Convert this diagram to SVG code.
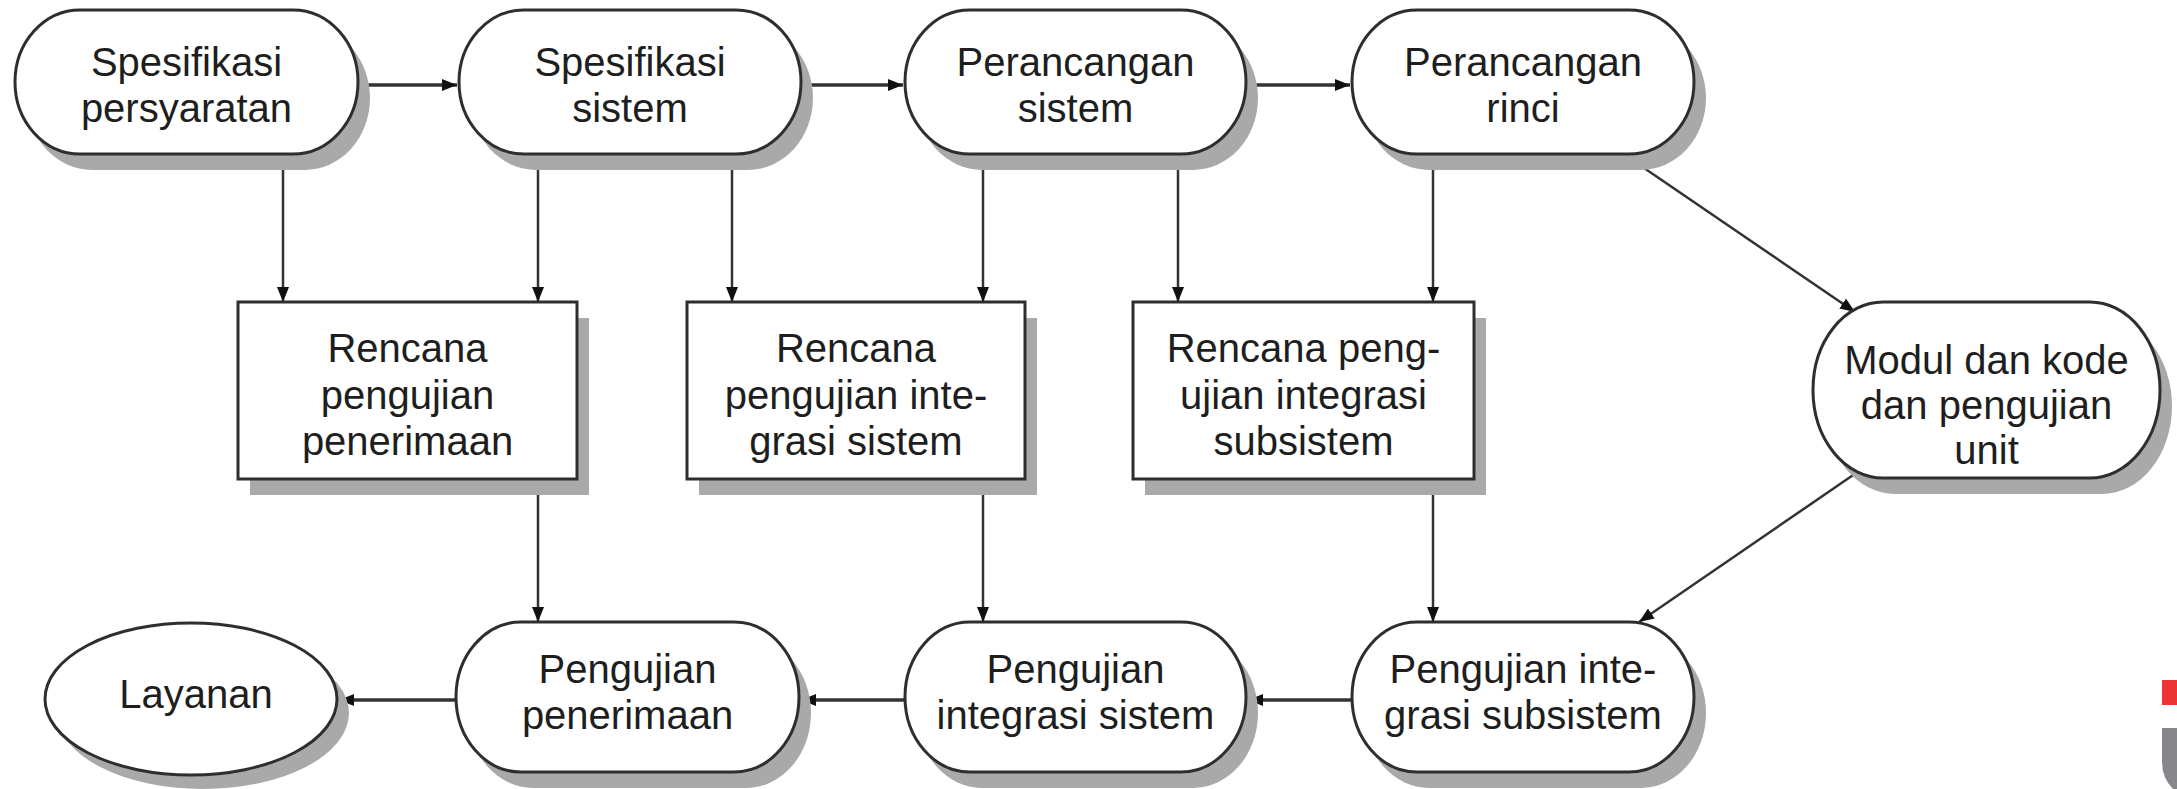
<svg xmlns="http://www.w3.org/2000/svg" width="2177" height="789" viewBox="0 0 2177 789">
<style>
.bg{fill:#ffffff}
.shadow{fill:#a9a9a9;stroke:none}
.node{fill:#ffffff;stroke:#2e2e2e;stroke-width:3}
.lbl{font-family:"Liberation Sans",Arial,Helvetica,sans-serif;font-size:40px;fill:#1e1e1e;text-anchor:middle}
.edge{fill:none;stroke:#333333;stroke-width:2.5}
.edge-h{fill:none;stroke:#333333;stroke-width:3.5}
</style>
<defs>
<marker id="ah" markerUnits="userSpaceOnUse" markerWidth="16" markerHeight="12" refX="15" refY="6" orient="auto">
<path d="M0,0 L15,6 L0,12 Z" fill="#111111"/>
</marker>
</defs>
<rect class="bg" x="0" y="0" width="2177" height="789"/>

<g id="connectors">
<line class="edge-h" x1="358" y1="85" x2="457" y2="85" marker-end="url(#ah)"/>
<line class="edge-h" x1="801" y1="85" x2="903" y2="85" marker-end="url(#ah)"/>
<line class="edge-h" x1="1246" y1="85" x2="1350" y2="85" marker-end="url(#ah)"/>
<line class="edge" x1="283" y1="154" x2="283" y2="302" marker-end="url(#ah)"/>
<line class="edge" x1="538" y1="154" x2="538" y2="302" marker-end="url(#ah)"/>
<line class="edge" x1="732" y1="154" x2="732" y2="302" marker-end="url(#ah)"/>
<line class="edge" x1="983" y1="154" x2="983" y2="302" marker-end="url(#ah)"/>
<line class="edge" x1="1178" y1="154" x2="1178" y2="302" marker-end="url(#ah)"/>
<line class="edge" x1="1433" y1="154" x2="1433" y2="302" marker-end="url(#ah)"/>
<line class="edge" x1="538" y1="479" x2="538" y2="622" marker-end="url(#ah)"/>
<line class="edge" x1="983" y1="479" x2="983" y2="622" marker-end="url(#ah)"/>
<line class="edge" x1="1433" y1="479" x2="1433" y2="622" marker-end="url(#ah)"/>
<line class="edge" x1="1625" y1="155" x2="1855" y2="312" marker-end="url(#ah)"/>
<line class="edge" x1="1859" y1="471" x2="1639" y2="622" marker-end="url(#ah)"/>
<line class="edge-h" x1="1352" y1="700" x2="1248" y2="700" marker-end="url(#ah)"/>
<line class="edge-h" x1="905" y1="700" x2="801" y2="700" marker-end="url(#ah)"/>
<line class="edge-h" x1="456" y1="700" x2="339" y2="700" marker-end="url(#ah)"/>
</g>

<g id="n-spesifikasi-persyaratan">
<rect class="shadow" x="27" y="26" width="343" height="144" rx="65" ry="72"/>
<rect class="node" x="15" y="10" width="343" height="144" rx="65" ry="72"/>
<text class="lbl" x="186.5" y="76">Spesifikasi</text>
<text class="lbl" x="186.5" y="122">persyaratan</text>
</g>

<g id="n-spesifikasi-sistem">
<rect class="shadow" x="471" y="26" width="342" height="144" rx="65" ry="72"/>
<rect class="node" x="459" y="10" width="342" height="144" rx="65" ry="72"/>
<text class="lbl" x="630" y="76">Spesifikasi</text>
<text class="lbl" x="630" y="122">sistem</text>
</g>

<g id="n-perancangan-sistem">
<rect class="shadow" x="917" y="26" width="341" height="144" rx="65" ry="72"/>
<rect class="node" x="905" y="10" width="341" height="144" rx="65" ry="72"/>
<text class="lbl" x="1075.5" y="76">Perancangan</text>
<text class="lbl" x="1075.5" y="122">sistem</text>
</g>

<g id="n-perancangan-rinci">
<rect class="shadow" x="1364" y="26" width="342" height="144" rx="65" ry="72"/>
<rect class="node" x="1352" y="10" width="342" height="144" rx="65" ry="72"/>
<text class="lbl" x="1523" y="76">Perancangan</text>
<text class="lbl" x="1523" y="122">rinci</text>
</g>

<g id="n-rencana-penerimaan">
<rect class="shadow" x="250" y="318" width="339" height="177"/>
<rect class="node" x="238" y="302" width="339" height="177"/>
<text class="lbl" x="407.5" y="362">Rencana</text>
<text class="lbl" x="407.5" y="409">pengujian</text>
<text class="lbl" x="407.5" y="455">penerimaan</text>
</g>

<g id="n-rencana-integrasi-sistem">
<rect class="shadow" x="699" y="318" width="338" height="177"/>
<rect class="node" x="687" y="302" width="338" height="177"/>
<text class="lbl" x="856" y="362">Rencana</text>
<text class="lbl" x="856" y="409">pengujian inte-</text>
<text class="lbl" x="856" y="455">grasi sistem</text>
</g>

<g id="n-rencana-integrasi-subsistem">
<rect class="shadow" x="1145" y="318" width="341" height="177"/>
<rect class="node" x="1133" y="302" width="341" height="177"/>
<text class="lbl" x="1303.5" y="362">Rencana peng-</text>
<text class="lbl" x="1303.5" y="409">ujian integrasi</text>
<text class="lbl" x="1303.5" y="455">subsistem</text>
</g>

<g id="n-modul">
<rect class="shadow" x="1825" y="318" width="347" height="176" rx="70" ry="88"/>
<rect class="node" x="1813" y="302" width="347" height="176" rx="70" ry="88"/>
<text class="lbl" x="1986.5" y="374">Modul dan kode</text>
<text class="lbl" x="1986.5" y="419">dan pengujian</text>
<text class="lbl" x="1986.5" y="464">unit</text>
</g>

<g id="n-layanan">
<ellipse class="shadow" cx="203" cy="713" rx="146" ry="76"/>
<ellipse class="node" cx="191" cy="699" rx="146" ry="76"/>
<text class="lbl" x="196" y="708">Layanan</text>
</g>

<g id="n-pengujian-penerimaan">
<rect class="shadow" x="468" y="638" width="343" height="150" rx="65" ry="75"/>
<rect class="node" x="456" y="622" width="343" height="150" rx="65" ry="75"/>
<text class="lbl" x="627.5" y="683">Pengujian</text>
<text class="lbl" x="627.5" y="729">penerimaan</text>
</g>

<g id="n-pengujian-integrasi-sistem">
<rect class="shadow" x="917" y="638" width="341" height="150" rx="65" ry="75"/>
<rect class="node" x="905" y="622" width="341" height="150" rx="65" ry="75"/>
<text class="lbl" x="1075.5" y="683">Pengujian</text>
<text class="lbl" x="1075.5" y="729">integrasi sistem</text>
</g>

<g id="n-pengujian-integrasi-subsistem">
<rect class="shadow" x="1364" y="638" width="342" height="150" rx="65" ry="75"/>
<rect class="node" x="1352" y="622" width="342" height="150" rx="65" ry="75"/>
<text class="lbl" x="1523" y="683">Pengujian inte-</text>
<text class="lbl" x="1523" y="729">grasi subsistem</text>
</g>

<g id="logo-fragment">
<rect x="2162" y="680" width="15" height="25" fill="#ee3338"/>
<path d="M2162,728 L2177,728 L2177,789 L2173,789 Q2162,778 2162,762 Z" fill="#85878a"/>
</g>
</svg>
